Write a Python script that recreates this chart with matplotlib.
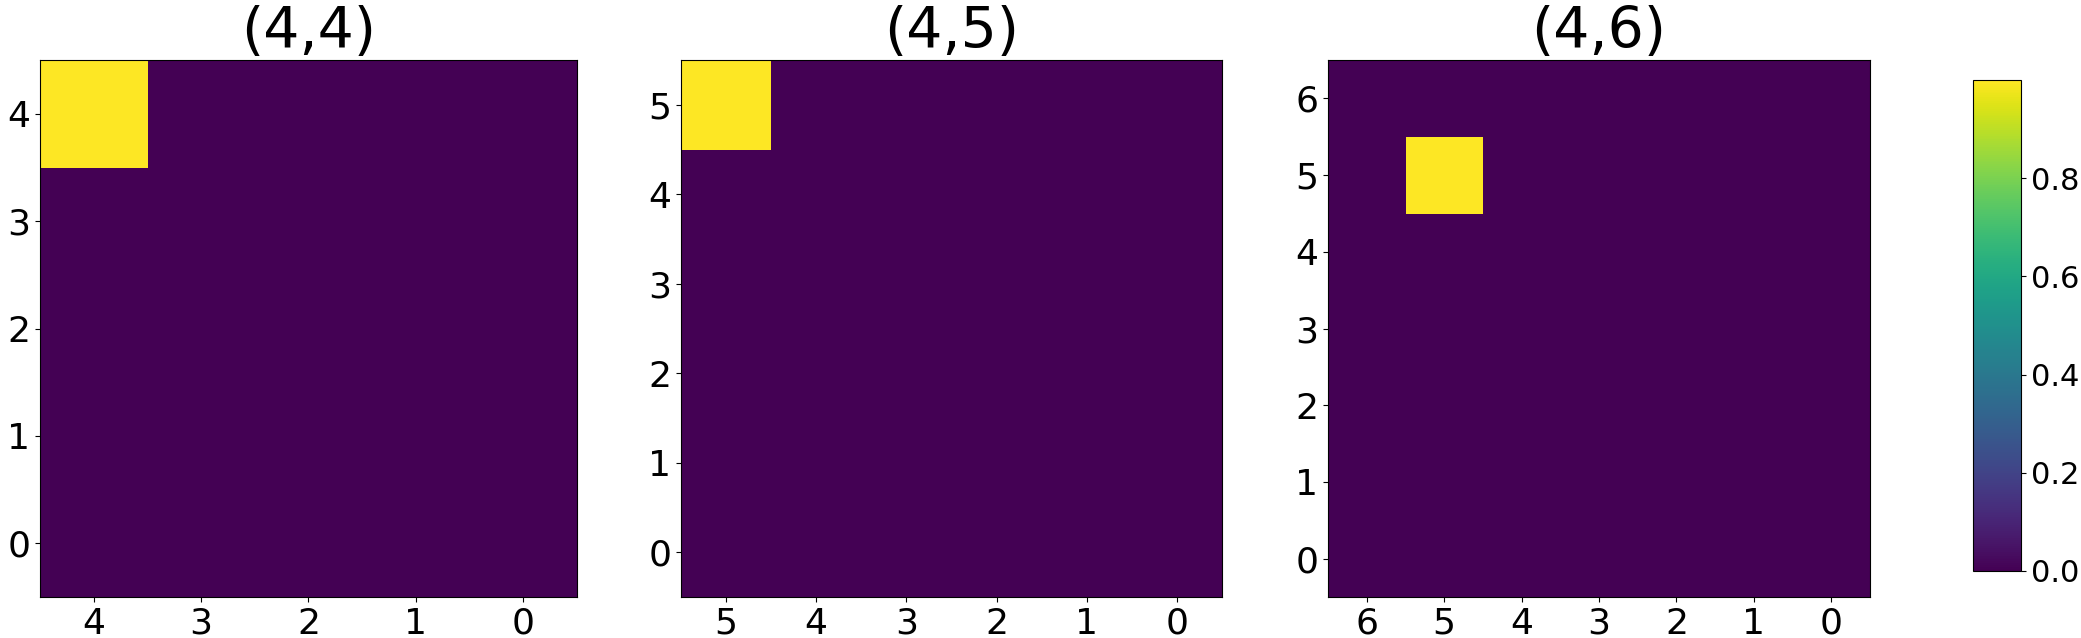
import numpy as np
import matplotlib
matplotlib.use("Agg")
import matplotlib.pyplot as plt

titles = ["(4,4)", "(4,5)", "(4,6)"]
sizes = [5, 6, 7]
hot_x = [4, 5, 5]
hot_y = [4, 5, 5]
cbar_ticks = [0.0, 0.2, 0.4, 0.6, 0.8]

W, H = 2081, 638
fig = plt.figure(figsize=(W / 100, H / 100), dpi=100)

panels = [(40, 577), (681, 1222), (1328, 1870)]
top, bottom = 60, 597

im = None
for (l, r), t, n, hx, hy in zip(panels, titles, sizes, hot_x, hot_y):
    ax = fig.add_axes([l / W, 1 - bottom / H, (r - l) / W, (bottom - top) / H])
    data = np.zeros((n, n))
    data[hy, hx] = 1.0
    im = ax.imshow(data, cmap="viridis", origin="lower", vmin=0, vmax=0.9999,
                   aspect="auto", interpolation="nearest")
    ax.set_xlim(n - 0.5, -0.5)
    ax.set_ylim(-0.5, n - 0.5)
    ax.set_xticks(range(n))
    ax.set_yticks(range(n))
    ax.tick_params(labelsize=26)
    ax.set_title(t, fontsize=41, pad=2)

cax = fig.add_axes([1973 / W, 1 - 571 / H, 48 / W, (571 - 80) / H])
cb = fig.colorbar(im, cax=cax, ticks=cbar_ticks)
cb.ax.tick_params(labelsize=22)

fig.savefig("out.png", dpi=100)
